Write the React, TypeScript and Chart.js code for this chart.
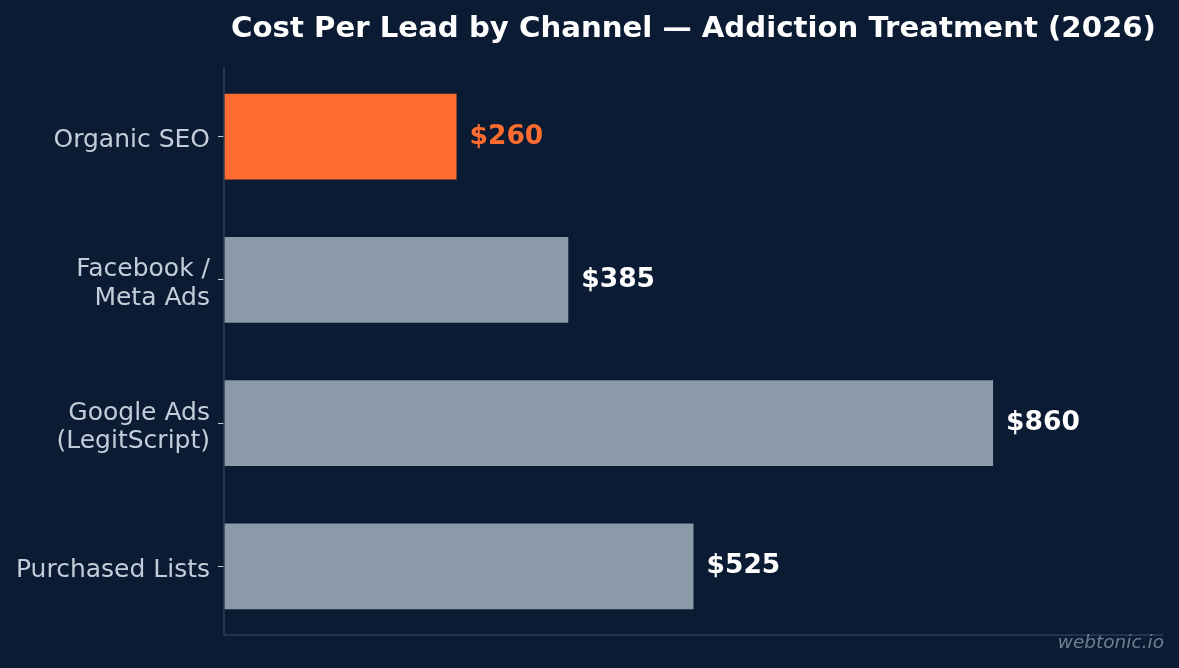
import React, { useEffect, useRef } from "react";
import { Chart, registerables } from "chart.js";

Chart.register(...registerables);

const categories: (string | string[])[] = [
  "Organic SEO",
  ["Facebook /", "Meta Ads"],
  ["Google Ads", "(LegitScript)"],
  "Purchased Lists",
];
const costPerLead = [260, 385, 860, 525];
const valueLabels = ["$260", "$385", "$860", "$525"];
const barColors = ["#ff6c2f", "#8a9aa9", "#8a9aa9", "#8a9aa9"];
const labelColors = ["#ff6c2f", "#ffffff", "#ffffff", "#ffffff"];
const titleText = "Cost Per Lead by Channel — Addiction Treatment (2026)";
const watermark = "webtonic.io";

const BG = "#0b1b33";
const AXIS = "#2e3e56";
const FONT = "'DejaVu Sans', sans-serif";

export default function App() {
  const ref = useRef<HTMLCanvasElement | null>(null);
  useEffect(() => {
    document.body.style.margin = "0";
    document.body.style.background = BG;
    const canvas = ref.current!;
    const overlay = {
      id: "overlay",
      beforeDraw(chart: any) {
        const { ctx, width, height } = chart;
        ctx.save();
        ctx.fillStyle = BG;
        ctx.fillRect(0, 0, width, height);
        ctx.restore();
      },
      afterDraw(chart: any) {
        const { ctx, chartArea } = chart;
        const axTop = 67;
        const axBottom = 635;
        ctx.save();
        ctx.strokeStyle = AXIS;
        ctx.lineWidth = 1.5;
        ctx.beginPath();
        ctx.moveTo(chartArea.left, axTop);
        ctx.lineTo(chartArea.left, axBottom);
        ctx.lineTo(chartArea.right, axBottom);
        ctx.stroke();
        const meta = chart.getDatasetMeta(0);
        ctx.font = `bold 26.5px ${FONT}`;
        ctx.textBaseline = "middle";
        ctx.textAlign = "left";
        meta.data.forEach((bar: any, i: number) => {
          ctx.fillStyle = labelColors[i];
          ctx.fillText(valueLabels[i], bar.x + 13, bar.y);
        });
        ctx.font = `bold 29.2px ${FONT}`;
        ctx.fillStyle = "#ffffff";
        ctx.textAlign = "center";
        ctx.fillText(titleText, (chartArea.left + chartArea.right) / 2, 29);
        ctx.font = `italic 18.5px ${FONT}`;
        ctx.fillStyle = "#6f7f93";
        ctx.textAlign = "right";
        ctx.fillText(watermark, 1164, 643);
        ctx.restore();
      },
    };
    const chart = new Chart(canvas, {
      type: "bar",
      data: {
        labels: categories,
        datasets: [
          {
            data: costPerLead,
            backgroundColor: barColors,
            borderWidth: 0,
            barPercentage: 0.6,
            categoryPercentage: 1,
          },
        ],
      },
      options: {
        indexAxis: "y",
        animation: false,
        responsive: false,
        maintainAspectRatio: false,
        layout: { padding: { top: 65, bottom: 30, right: 16, left: 0 } },
        plugins: {
          legend: { display: false },
          title: { display: false },
          tooltip: { enabled: false },
        },
        scales: {
          x: {
            display: false,
            min: 0,
            max: 1050,
          },
          y: {
            afterFit: (scale: any) => {
              scale.width = 224;
            },
            border: { display: false },
            grid: {
              offset: false,
              drawOnChartArea: false,
              drawTicks: true,
              tickLength: 6,
              color: "#c2cdd9",
            },
            ticks: {
              color: "#c2cdd9",
              padding: 8,
              labelOffset: 4,
              font: { family: FONT, size: 25, lineHeight: 1.13 },
            },
          },
        },
      },
      plugins: [overlay],
    });
    return () => chart.destroy();
  }, []);
  return (
    <div style={{ width: 1179, height: 668, background: BG }}>
      <canvas ref={ref} width={1179} height={668} style={{ display: "block" }} />
    </div>
  );
}
